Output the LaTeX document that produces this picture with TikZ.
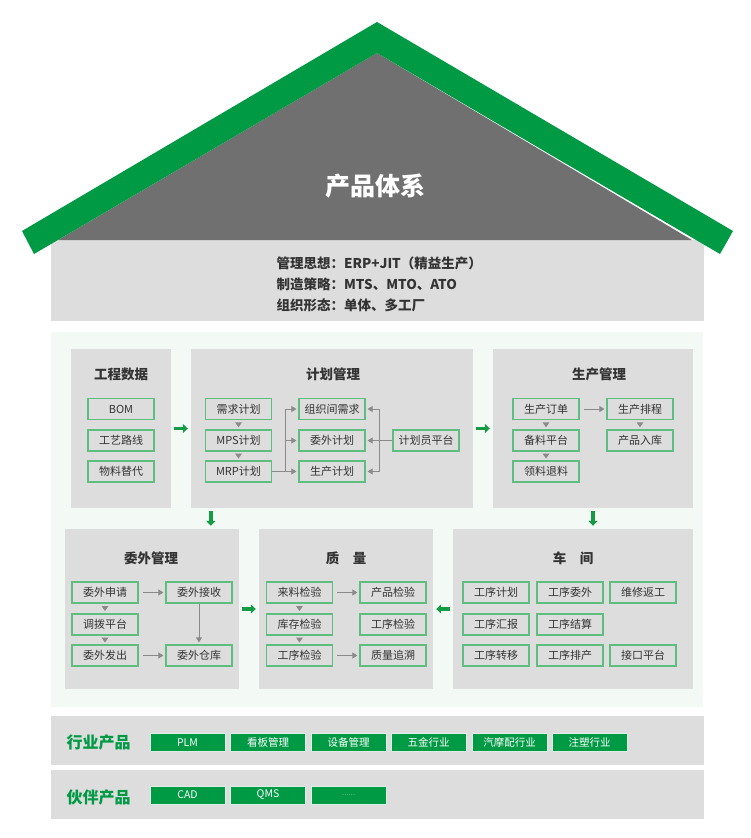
\documentclass[tikz,border=0pt]{standalone}
\usepackage{fontspec}
\setmainfont{Noto Sans CJK SC}
\usetikzlibrary{arrows.meta,calc}
\definecolor{roofgreen}{HTML}{009A44}
\definecolor{roofgray}{HTML}{707070}
\definecolor{panelgray}{HTML}{DDDDDD}
\definecolor{mintbg}{HTML}{F3F9F5}
\definecolor{itemgreen}{HTML}{5DBE80}
\definecolor{arrowgray}{HTML}{8A8A8A}
\definecolor{flowgreen}{HTML}{169B45}
\definecolor{darktext}{HTML}{333333}
\newcommand\dtri[2]{\fill[arrowgray] ($(#1.south)!0.5!(#2.north)$) ++(-3.5,-2.5) -- ++(7,0) -- ++(-3.5,5) -- cycle;}
\begin{document}
\begin{tikzpicture}[x=1pt,y=-1pt,
  panel/.style={fill=panelgray,draw=none,inner sep=0,minimum width=#1},
  ptitle/.style={font=\fontsize{13.5}{15}\selectfont\bfseries,text=darktext},
  item/.style={draw=itemgreen,line width=1.2pt,fill=panelgray,minimum width=66,minimum height=21,inner sep=0,font=\fontsize{11}{12}\selectfont,text=darktext},
  conn/.style={draw=arrowgray,line width=0.8pt,-{Triangle[length=5pt,width=6pt]},shorten >=2pt},
  flow/.style={draw=flowgreen,line width=3.5pt,-{Triangle[length=5pt,width=9pt]},shorten <=3pt,shorten >=3pt},
  btn/.style={fill=roofgreen,draw=white!85!roofgreen,line width=0.4pt,minimum width=75,minimum height=18,inner sep=0,text=white,font=\fontsize{10.5}{11}\selectfont},
  hdtext/.style={anchor=west,font=\fontsize{13.5}{15}\selectfont\bfseries,text=darktext},
  barlabel/.style={anchor=west,font=\fontsize{16}{18}\selectfont\bfseries,text=roofgreen}]
\useasboundingbox (0,0) rectangle (750,838);
% header band
\fill[panelgray] (51,240) rectangle (704,321);
% roof
\fill[roofgray] (377,53) -- (692,240) -- (58,240) -- cycle;
\fill[roofgreen] (377,22) -- (733,231) -- (720,254) -- (377,53) -- (34,254) -- (22,231) -- cycle;
\node[font=\fontsize{25}{27}\selectfont\bfseries,text=white] (title) at (375,186) {产品体系};
\node[hdtext] (h1) at (273,263) {管理思想：ERP+JIT（精益生产）};
\node[hdtext] (h2) at (273,284) {制造策略：MTS、MTO、ATO};
\node[hdtext] (h3) at (273,305) {组织形态：单体、多工厂};
% main background
\fill[mintbg] (51,332) rectangle (703,707);
% panels
\node[panel=100,minimum height=159] (gcsj) at (121,428.5) {};
\node[panel=282,minimum height=159] (jhgl) at (332,428.5) {};
\node[panel=200,minimum height=159] (scgl) at (593,428.5) {};
\node[panel=174,minimum height=160] (wwgl) at (152,609) {};
\node[panel=174,minimum height=160] (zl) at (346,609) {};
\node[panel=240,minimum height=160] (cj) at (573,609) {};
\node[ptitle] (t1) at (121,374) {工程数据};
\node[ptitle] (t2) at (333,374) {计划管理};
\node[ptitle] (t3) at (599,374) {生产管理};
\node[ptitle] (t4) at (151,558) {委外管理};
\node[ptitle] (t5) at (346,558) {质\hspace{1em}量};
\node[ptitle] (t6) at (573,558) {车\hspace{1em}间};
% flow arrows
\draw[flow] (gcsj.east) -- (jhgl.west);
\draw[flow] (jhgl.east) -- (scgl.west);
\draw[flow] (scgl.south) -- (scgl.south |- cj.north);
\coordinate (jd) at ($(jhgl.south west)+(20,0)$);
\draw[flow] (jd) -- (jd |- wwgl.north);
\draw[flow] (wwgl.east) -- (zl.west);
\draw[flow] (cj.west) -- (zl.east);
% 工程数据
\node[item] (bom) at (121,409) {BOM};
\node[item] (gylx) at (121,440.5) {工艺路线};
\node[item] (wltd) at (121,471.5) {物料替代};
% 计划管理
\node[item] (xqjh) at (238.5,409) {需求计划};
\node[item] (mps) at (238.5,440.5) {MPS计划};
\node[item] (mrp) at (238.5,471.5) {MRP计划};
\node[item] (zzj) at (332,409) {组织间需求};
\node[item] (wwjh) at (332,440.5) {委外计划};
\node[item] (scjh) at (332,471.5) {生产计划};
\node[item] (jhy) at (426,440.5) {计划员平台};
\dtri{xqjh}{mps}
\dtri{mps}{mrp}
\coordinate (b1) at ($(mrp.east)+(13,0)$);
\draw[conn] (mrp.east) -- (scjh.west);
\draw[conn] (b1) |- (wwjh.west);
\draw[conn] (b1) |- (zzj.west);
\coordinate (b2) at ($(jhy.west)+(-13,0)$);
\draw[conn] (jhy.west) -- (wwjh.east);
\draw[conn] (b2) |- (zzj.east);
\draw[conn] (b2) |- (scjh.east);
% 生产管理
\node[item] (scdd) at (546,409) {生产订单};
\node[item] (blpt) at (546,440.5) {备料平台};
\node[item] (lltl) at (546,471.5) {领料退料};
\node[item] (scpc) at (640,409) {生产排程};
\node[item] (cprk) at (640,440.5) {产品入库};
\dtri{scdd}{blpt}
\dtri{blpt}{lltl}
\dtri{scpc}{cprk}
\draw[conn,shorten <=4pt] (scdd.east) -- (scpc.west);
% 委外管理
\node[item] (wwsq) at (105,592.5) {委外申请};
\node[item] (dbpt) at (105,624.5) {调拨平台};
\node[item] (wwfc) at (105,655.5) {委外发出};
\node[item] (wwjs) at (199,592.5) {委外接收};
\node[item] (wwck) at (199,655.5) {委外仓库};
\dtri{wwsq}{dbpt}
\dtri{dbpt}{wwfc}
\draw[conn,shorten <=4pt] (wwsq.east) -- (wwjs.west);
\draw[conn,shorten <=4pt] (wwfc.east) -- (wwck.west);
\draw[conn] (wwjs.south) -- (wwck.north);
% 质量
\node[item] (llj) at (299.5,592.5) {来料检验};
\node[item] (kcj) at (299.5,624.5) {库存检验};
\node[item] (gxj) at (299.5,655.5) {工序检验};
\node[item] (cpj) at (393,592.5) {产品检验};
\node[item] (gxj2) at (393,624.5) {工序检验};
\node[item] (zlzs) at (393,655.5) {质量追溯};
\dtri{llj}{kcj}
\dtri{kcj}{gxj}
\draw[conn,shorten <=4pt] (llj.east) -- (cpj.west);
\draw[conn,shorten <=4pt] (gxj.east) -- (zlzs.west);
% 车间
\node[item] (gxjh) at (496,592.5) {工序计划};
\node[item] (gxww) at (570,592.5) {工序委外};
\node[item] (wxfg) at (643,592.5) {维修返工};
\node[item] (gxhb) at (496,624.5) {工序汇报};
\node[item] (gxjs) at (570,624.5) {工序结算};
\node[item] (gxzy) at (496,655.5) {工序转移};
\node[item] (gxpc) at (570,655.5) {工序排产};
\node[item] (jkpt) at (643,655.5) {接口平台};
% bottom bars
\fill[panelgray] (51,716) rectangle (704,765);
\fill[panelgray] (51,770) rectangle (704,819);
\node[barlabel] (hy) at (63,742) {行业产品};
\node[barlabel] (hb) at (63,797) {伙伴产品};
\node[btn] (plm) at (187.5,742.5) {PLM};
\node[btn] (kb) at (268,742.5) {看板管理};
\node[btn] (sb) at (348.5,742.5) {设备管理};
\node[btn] (wj) at (428.5,742.5) {五金行业};
\node[btn] (qmp) at (509.5,742.5) {汽摩配行业};
\node[btn] (zs) at (589.5,742.5) {注塑行业};
\node[btn] (cad) at (187.5,795) {CAD};
\node[btn] (qms) at (268,795) {QMS};
\node[btn,font=\fontsize{6}{7}\selectfont] (more) at (348.5,795) {……};
\end{tikzpicture}
\end{document}
